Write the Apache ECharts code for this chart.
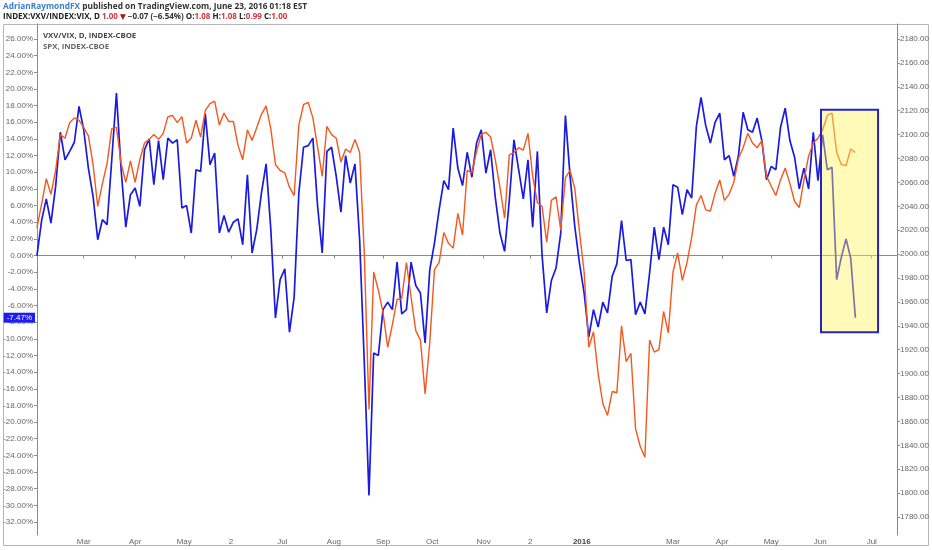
<!DOCTYPE html>
<html><head><meta charset="utf-8">
<script src="https://cdn.jsdelivr.net/npm/echarts@6/dist/echarts.min.js"></script>
<style>html,body{margin:0;padding:0;background:#fff}#c{width:932px;height:550px}</style>
</head><body><div id="c"></div>
<script>
// trading-day step between samples (samples every 2 trading days, day 0 = first bar)
const dayStep = 2;
// VXV/VIX, % change from first bar (left axis)
const vxvVix = [0.0,4.2,6.8,3.9,8.3,14.8,11.5,12.5,13.6,17.9,15.1,10.5,7.1,1.9,4.3,3.7,11.5,19.5,10.3,3.4,
7.3,8.1,5.9,12.7,14.0,8.5,13.8,9.1,14.1,13.5,13.9,5.7,6.0,2.7,10.3,10.1,17.0,10.9,12.3,2.7,
4.8,2.8,4.0,4.4,1.3,9.7,0.3,3.1,7.5,11.0,3.2,-7.5,-2.9,-1.6,-9.2,-5.0,7.5,13.0,13.2,14.1,
6.0,0.3,12.5,13.0,9.5,5.2,12.0,8.7,11.0,1.9,-12.9,-28.8,-11.7,-12.0,-6.5,-5.6,-6.5,-0.8,-7.0,-6.5,
-0.8,-3.6,-4.5,-10.5,-1.7,1.5,5.5,9.0,7.9,15.3,10.5,8.4,12.4,9.4,13.5,15.1,9.9,12.7,7.0,2.7,
0.5,6.6,13.9,10.3,6.8,11.5,3.4,12.5,0.1,-6.9,-3.0,-1.5,2.7,16.8,9.5,3.5,-0.9,-4.5,-9.8,-6.5,
-8.6,-5.6,-6.9,-2.5,-1.0,4.2,-0.6,-0.5,-7.1,-5.6,-7.0,-2.1,3.4,-0.5,3.4,1.3,8.5,8.2,4.9,7.9,
6.9,15.5,19.0,15.6,13.5,16.0,17.1,11.5,12.0,9.5,12.0,17.2,15.1,14.8,16.5,13.8,9.1,10.7,10.3,15.4,
17.7,13.8,11.8,8.0,10.5,8.0,14.8,9.0,14.5,10.3,10.6,-2.9,-0.2,2.0,-0.3,-7.47];
// SPX close (right axis)
const spx = [2022,2042,2063,2050,2070,2100,2097,2110,2114,2112,2106,2099,2075,2040,2059,2076,2105,2106,2076,2060,
2078,2060,2079,2093,2096,2100,2096,2101,2115,2116,2110,2115,2093,2097,2112,2098,2120,2126,2128,2108,
2118,2111,2111,2091,2079,2104,2095,2106,2117,2124,2105,2075,2070,2068,2056,2049,2108,2125,2127,2114,
2090,2065,2107,2100,2097,2077,2088,2085,2096,2085,2000,1870,1985,1970,1951,1922,1941,1962,1963,1993,
1964,1936,1928,1883,1926,1987,1993,2018,2009,2005,2034,2016,2070,2068,2086,2100,2102,2098,2079,2056,
2030,2083,2085,2089,2087,2101,2065,2043,2040,2010,2045,2048,2020,2064,2070,2055,2019,1985,1922,1935,
1900,1875,1865,1885,1884,1940,1910,1917,1854,1839,1830,1928,1918,1920,1952,1934,1985,2001,1978,1993,
2014,2041,2049,2037,2036,2051,2062,2045,2050,2060,2080,2089,2101,2093,2089,2095,2065,2057,2049,2062,
2072,2059,2044,2039,2062,2082,2093,2097,2104,2116,2118,2085,2075,2074,2088,2085];
// x-axis month labels at trading-day index
const monthDays = [20,42,63,83,105,127,148,169,191,211,233,272,293,314,335,357];
const monthLabels = ['Mar','Apr','May','2','Jul','Aug','Sep','Oct','Nov','2','2016','Mar','Apr','May','Jun','Jul'];
// y tick labels
const pctTicks = [];
for (let v = -32; v <= 26; v += 2) pctTicks.push(v);
const spxTicks = [];
for (let v = 1780; v <= 2180; v += 20) spxTicks.push(v);
// highlighted box (day range, % range)
const boxDays = [335.3, 359.7];
const boxPct = [17.5, -9.2];
const lastVal = vxvVix[vxvVix.length - 1];

const chart = echarts.init(document.getElementById('c'), null, {renderer: 'canvas'});
const blueData = vxvVix.map((v, i) => [i * dayStep, v]);
const spxData = spx.map((v, i) => [i * dayStep, v]);
const labelFont = 'Liberation Sans';
const axisGray = '#8a8a8a';

chart.setOption({
  animation: false,
  backgroundColor: '#ffffff',
  title: [{
    left: 3, top: 1, padding: 0,
    text: '{a|AdrianRaymondFX}{b| published on TradingView.com, June 23, 2016 01:18 EST}\n' +
          '{k|INDEX:VXV/INDEX:VIX, D}{r| 1.00 }{dn|▼}{d| \u22120.07 (\u22126.54%) }{k|O:}{r|1.08 }{k|H:}{r|1.08 }{k|L:}{r|0.99 }{k|C:}{r|1.00}',
    textStyle: {
      fontFamily: 'Open Sans', fontSize: 8.3, lineHeight: 10.5,
      rich: {
        a: {color: '#3a7fc9', fontSize: 8.3, fontFamily: 'Open Sans', lineHeight: 10.5},
        b: {color: '#333', fontSize: 8.3, fontFamily: 'Open Sans', lineHeight: 10.5},
        k: {color: '#222', fontSize: 8, fontWeight: 'bold', fontFamily: 'Open Sans', lineHeight: 10.5},
        r: {color: '#d0363c', fontSize: 8, fontFamily: 'Open Sans', lineHeight: 10.5},
        dn: {color: '#b01010', fontSize: 7.5, fontFamily: 'DejaVu Sans', lineHeight: 10.5},
        d: {color: '#333', fontSize: 8, fontFamily: 'Open Sans', lineHeight: 10.5}
      }
    }
  }, {
    left: 43, top: 31, padding: 0,
    text: '{m|VXV/VIX, D, INDEX-CBOE}\n{s|SPX, INDEX-CBOE}',
    textStyle: {
      rich: {
        m: {color: '#444', fontSize: 7.8, fontWeight: 'bold', fontFamily: 'Open Sans', lineHeight: 10.5},
        s: {color: '#666', fontSize: 7.8, fontFamily: 'Open Sans', lineHeight: 10.5}
      }
    }
  }],
  graphic: [{
    type: 'rect', z: -10, silent: true,
    shape: {x: 3.5, y: 24.5, width: 925, height: 521},
    style: {fill: 'none', stroke: '#b5b5b5', lineWidth: 1}
  }],
  grid: {left: 36, right: 35, top: 24, bottom: 15, containLabel: false},
  xAxis: {
    type: 'value', min: -0.4, max: 367.8,
    splitLine: {show: false},
    axisLine: {show: true, lineStyle: {color: axisGray}},
    axisTick: {show: true, length: 3, customValues: monthDays, lineStyle: {color: axisGray}},
    axisLabel: {
      customValues: monthDays, fontSize: 8, color: '#666', fontFamily: labelFont, margin: 3,
      formatter: v => {
        const k = monthDays.indexOf(Math.round(v));
        const t = k >= 0 ? monthLabels[k] : '';
        return t === '2016' ? '{y|2016}' : t;
      },
      rich: {y: {fontSize: 8, color: '#444', fontWeight: 'bold', fontFamily: labelFont}}
    }
  },
  yAxis: [{
    type: 'value', position: 'left', min: -33.56, max: 27.80,
    splitLine: {show: false},
    axisLine: {show: true, lineStyle: {color: axisGray}},
    axisTick: {show: true, length: 3, customValues: pctTicks, lineStyle: {color: axisGray}},
    axisLabel: {customValues: pctTicks, fontSize: 8, color: '#666', fontFamily: labelFont, margin: 3,
      formatter: v => v.toFixed(2) + '%'}
  }, {
    type: 'value', position: 'right', min: 1764.95, max: 2192.55,
    splitLine: {show: false},
    axisLine: {show: true, lineStyle: {color: axisGray}},
    axisTick: {show: true, length: 3, customValues: spxTicks, lineStyle: {color: axisGray}},
    axisLabel: {customValues: spxTicks, fontSize: 8, color: '#666', fontFamily: labelFont, margin: 3,
      formatter: v => v.toFixed(2)}
  }],
  series: [{
    name: 'VXV/VIX', type: 'line', yAxisIndex: 0, z: 2,
    data: blueData, showSymbol: false, symbol: 'none',
    lineStyle: {color: '#1b1be0', width: 1.7}
  }, {
    name: 'SPX', type: 'line', yAxisIndex: 1, z: 3,
    data: spxData, showSymbol: false, symbol: 'none',
    lineStyle: {color: '#f5571c', width: 1.4}
  }, {
    name: 'box', type: 'line', yAxisIndex: 0, z: 10,
    data: [], showSymbol: false,
    markArea: {
      silent: true, z: 20,
      itemStyle: {color: 'rgba(255,243,85,0.42)', borderColor: '#2424c4', borderWidth: 2},
      data: [[{xAxis: boxDays[0], yAxis: boxPct[0]}, {xAxis: boxDays[1], yAxis: boxPct[1]}]]
    },
    markLine: {
      silent: true, symbol: 'none', z: 30,
      lineStyle: {color: 'rgba(0,0,0,0)', width: 0},
      label: {
        show: true, position: 'start', distance: 1,
        formatter: () => lastVal.toFixed(2) + '%',
        color: '#fff', backgroundColor: '#1d1df0', fontSize: 8, fontFamily: labelFont,
        padding: [1, 3, 1, 3]
      },
      data: [{yAxis: lastVal}]
    }
  }]
});
</script></body></html>
